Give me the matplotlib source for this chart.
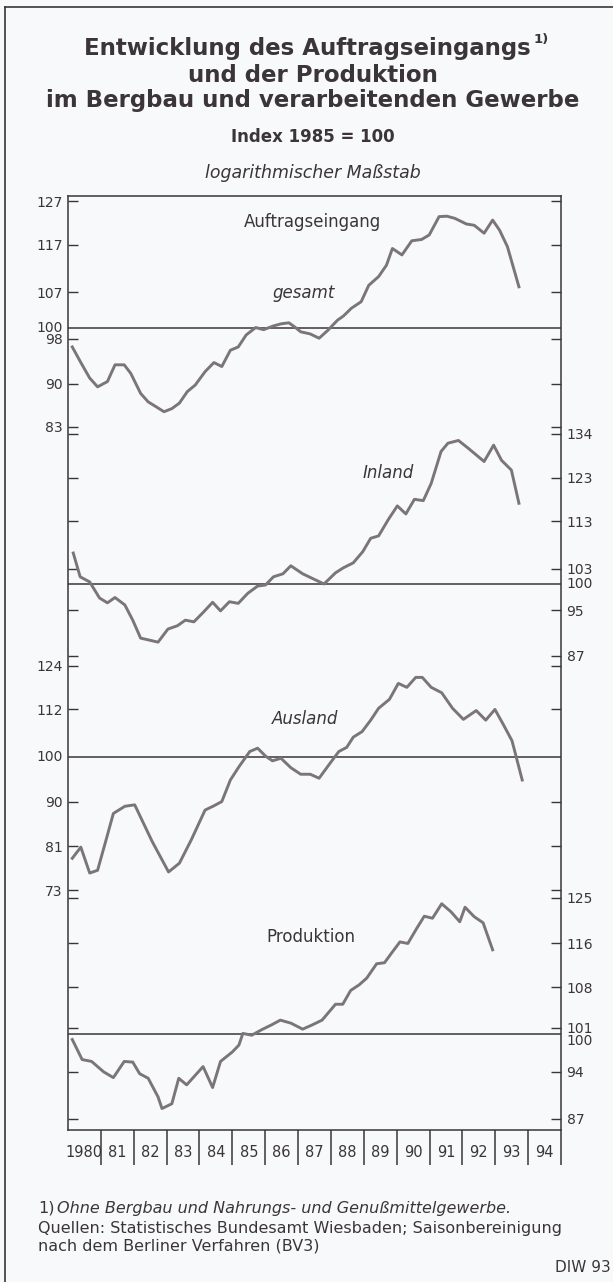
import matplotlib
matplotlib.use("Agg")
import matplotlib.pyplot as plt
import matplotlib.transforms as mtransforms
from matplotlib.lines import Line2D
from matplotlib.ticker import FixedLocator, NullLocator

# ---------------------------------------------------------------- data
YEAR_LABELS = ["1980", "81", "82", "83", "84", "85", "86", "87",
               "88", "89", "90", "91", "92", "93", "94"]

# Auftragseingang gesamt
T_GESAMT = [1980.13, 1980.40, 1980.66, 1980.90, 1981.20, 1981.43, 1981.71, 1981.91,
            1982.21, 1982.44, 1982.68, 1982.92, 1983.16, 1983.39, 1983.63, 1983.87,
            1984.17, 1984.44, 1984.68, 1984.94, 1985.18, 1985.42, 1985.71, 1985.95,
            1986.25, 1986.48, 1986.72, 1986.90, 1987.08, 1987.37, 1987.64, 1987.91,
            1988.20, 1988.38, 1988.62, 1988.92, 1989.15, 1989.45, 1989.69, 1989.87,
            1990.16, 1990.46, 1990.76, 1990.99, 1991.29, 1991.53, 1991.77,
            1992.12, 1992.36, 1992.66, 1992.92, 1993.13, 1993.37, 1993.72]
V_GESAMT = [96.5, 93.6, 91.0, 89.5, 90.4, 93.3, 93.3, 91.8,
            88.4, 87.0, 86.2, 85.4, 85.9, 86.8, 88.7, 89.8,
            92.1, 93.7, 93.0, 95.9, 96.5, 98.7, 100.1, 99.7,
            100.4, 100.8, 101.0, 100.2, 99.3, 98.9, 98.1, 99.6,
            101.5, 102.3, 103.8, 105.1, 108.4, 110.2, 112.6, 116.2,
            114.8, 117.9, 118.2, 119.2, 123.4, 123.5, 123.0,
            121.7, 121.4, 119.6, 122.6, 120.3, 116.6, 108.1]

# Auftragseingang Inland
T_INLAND = [1980.16, 1980.37, 1980.66, 1980.96, 1981.20, 1981.43, 1981.73, 1981.97,
            1982.21, 1982.44, 1982.74, 1983.04, 1983.33, 1983.57, 1983.83,
            1984.11, 1984.40, 1984.64, 1984.91, 1985.18, 1985.47, 1985.77,
            1986.01, 1986.25, 1986.54, 1986.78, 1987.14, 1987.43, 1987.79,
            1988.14, 1988.38, 1988.68, 1988.97, 1989.21, 1989.45, 1989.75,
            1990.02, 1990.28, 1990.54, 1990.81, 1991.05, 1991.35, 1991.56, 1991.88,
            1992.18, 1992.66, 1992.95, 1993.19, 1993.49, 1993.72]
V_INLAND = [106.2, 101.4, 100.4, 97.3, 96.4, 97.4, 96.0, 93.2,
            90.0, 89.7, 89.3, 91.6, 92.2, 93.2, 92.9,
            94.6, 96.5, 94.9, 96.6, 96.3, 98.2, 99.6,
            99.8, 101.4, 102.0, 103.6, 102.0, 101.1, 100.0,
            102.2, 103.2, 104.2, 106.5, 109.3, 109.8, 113.4,
            116.4, 114.6, 117.9, 117.6, 121.6, 129.4, 131.5, 132.2,
            130.2, 126.9, 131.0, 127.2, 124.8, 117.0]

# Auftragseingang Ausland
T_AUSLAND = [1980.13, 1980.39, 1980.66, 1980.90, 1981.15, 1981.38, 1981.73,
             1982.03, 1982.56, 1983.06, 1983.39, 1983.75,
             1984.17, 1984.44, 1984.68, 1984.94, 1985.20, 1985.53, 1985.77,
             1986.01, 1986.22, 1986.48, 1986.78, 1987.08, 1987.37, 1987.64, 1987.97,
             1988.24, 1988.48, 1988.68, 1988.95, 1989.21, 1989.45, 1989.78,
             1990.05, 1990.31, 1990.58, 1990.78, 1991.05, 1991.37, 1991.70,
             1992.03, 1992.42, 1992.71, 1992.99, 1993.25, 1993.51, 1993.82]
V_AUSLAND = [78.7, 80.8, 76.0, 76.5, 82.0, 87.5, 89.0,
             89.3, 81.9, 76.2, 77.8, 82.2,
             88.2, 89.1, 90.0, 94.7, 97.7, 101.3, 102.1,
             100.2, 99.1, 99.7, 97.5, 96.0, 96.0, 95.1, 98.5,
             101.3, 102.3, 104.8, 106.2, 109.1, 112.2, 114.6,
             119.0, 117.9, 120.7, 120.7, 117.9, 116.4, 112.2,
             109.3, 111.6, 109.1, 111.9, 107.9, 103.9, 94.7]

# Produktion
T_PROD = [1980.13, 1980.43, 1980.72, 1981.08, 1981.38, 1981.71, 1981.97,
          1982.18, 1982.44, 1982.74, 1982.86, 1983.16, 1983.37, 1983.61,
          1984.11, 1984.40, 1984.64, 1985.00, 1985.20, 1985.32, 1985.59, 1985.89,
          1986.19, 1986.46, 1986.78, 1987.14, 1987.43, 1987.73,
          1988.14, 1988.36, 1988.60, 1988.86, 1989.09, 1989.39, 1989.63, 1989.87,
          1990.10, 1990.34, 1990.61, 1990.84, 1991.09, 1991.37, 1991.65, 1991.92,
          1992.08, 1992.36, 1992.63, 1992.92]
V_PROD = [99.1, 95.9, 95.6, 94.0, 93.1, 95.6, 95.5,
          93.7, 93.0, 90.2, 88.5, 89.2, 93.0, 92.0,
          94.8, 91.6, 95.6, 97.1, 98.2, 100.1, 99.8, 100.7,
          101.5, 102.3, 101.8, 100.8, 101.5, 102.3,
          105.0, 105.0, 107.4, 108.4, 109.6, 112.2, 112.4, 114.4,
          116.3, 116.0, 118.9, 121.3, 120.9, 123.8, 122.2, 120.2,
          123.1, 121.2, 120.0, 114.8]

TICKS_GESAMT = [127, 117, 107, 98, 90, 83]
TICKS_INLAND = [134, 123, 113, 103, 95, 87]
TICKS_AUSLAND = [124, 112, 90, 81, 73]
TICKS_PROD = [125, 116, 108, 101, 94, 87]

# ---------------------------------------------------------------- style
INK = "#3b3539"
LINE = "#7b7578"
BG = "#f7f9fb"
plt.rcParams["font.family"] = ["DejaVu Sans"]

W, H = 613, 1282
fig = plt.figure(figsize=(W / 100, H / 100), dpi=100)
fig.patch.set_facecolor(BG)

# plot frame in pixels: x 68..561, y 196..1130 (from top)
rect = [68 / W, 1 - 1130 / H, (561 - 68) / W, (1130 - 196) / H]

ax0 = fig.add_axes(rect)
ax0.set_facecolor("none")
ax0.set_xlim(1980, 1995)
ax0.set_ylim(0, 1)
ax0.set_yticks([])
for sp in ax0.spines.values():
    sp.set_color(INK)
    sp.set_linewidth(1.1)
ax0.set_xticks([1980.5 + i for i in range(len(YEAR_LABELS))], labels=YEAR_LABELS)
ax0.set_xticks(range(1981, 1996), minor=True)
ax0.tick_params(axis="x", which="major", length=0, pad=11,
                labelsize=10.5, labelcolor=INK)
ax0.tick_params(axis="x", which="minor", direction="out", length=25,
                width=1.1, color=INK)

# one log-scaled axes per series, stacked on the same frame
panels = [
    # t, v, ylim, ticks, label side, 100-label valign
    (T_GESAMT, V_GESAMT, (22.02, 128.3), TICKS_GESAMT, "left", "center"),
    (T_INLAND, V_INLAND, (34.57, 212.7), TICKS_INLAND, "right", "center"),
    (T_AUSLAND, V_AUSLAND, (41.40, 376.7), TICKS_AUSLAND, "left", "center"),
    (T_PROD, V_PROD, (85.44, 395.0), TICKS_PROD, "right", "top"),
]

for t, v, ylim, ticks, side, va100 in panels:
    ax = fig.add_axes(rect)
    ax.patch.set_visible(False)
    for sp in ax.spines.values():
        sp.set_visible(False)
    ax.set_xlim(1980, 1995)
    ax.xaxis.set_visible(False)
    ax.set_yscale("log")
    ax.set_ylim(*ylim)
    ax.yaxis.set_major_locator(FixedLocator(ticks))
    ax.yaxis.set_minor_locator(NullLocator())
    ax.set_yticklabels([str(x) for x in ticks])
    ax.tick_params(axis="y", which="major", direction="in", length=7, width=1.0,
                   color=INK, left=True, right=True,
                   labelleft=(side == "left"), labelright=(side == "right"),
                   labelsize=10, labelcolor=INK, pad=4)

    ax.axhline(100, color=INK, lw=1.1, zorder=2)
    ax.plot(t, v, color=LINE, lw=2.1, solid_joinstyle="round", zorder=3)

    trans = mtransforms.blended_transform_factory(ax.transAxes, ax.transData)
    if side == "left":
        ax.text(-0.011, 100, "100", transform=trans, ha="right", va=va100,
                fontsize=10, color=INK)
    else:
        ax.text(1.011, 100, "100", transform=trans, ha="left", va=va100,
                fontsize=10, color=INK)

# series captions (axes fractions)
cap = dict(ha="center", va="center", fontsize=12, color=INK,
           transform=ax0.transAxes)
ax0.text(0.495, 0.972, "Auftragseingang", **cap)
ax0.text(0.479, 0.896, "gesamt", style="italic", **cap)
ax0.text(0.649, 0.703, "Inland", style="italic", **cap)
ax0.text(0.481, 0.440, "Ausland", style="italic", **cap)
ax0.text(0.493, 0.207, "Produktion", **cap)

# ----- titles
cx = 313 / W
fig.text(cx - 6 / W, 1 - 48 / H, "Entwicklung des Auftragseingangs",
         ha="center", va="center", fontsize=16.5, fontweight="bold", color=INK)
fig.text(534 / W, 1 - 40 / H, "1)", ha="left", va="center",
         fontsize=9.5, fontweight="bold", color=INK)
fig.text(cx, 1 - 75 / H, "und der Produktion",
         ha="center", va="center", fontsize=16.5, fontweight="bold", color=INK)
fig.text(cx, 1 - 101 / H, "im Bergbau und verarbeitenden Gewerbe",
         ha="center", va="center", fontsize=16.5, fontweight="bold", color=INK)
fig.text(cx, 1 - 137 / H, "Index 1985 = 100",
         ha="center", va="center", fontsize=12, fontweight="bold", color=INK)
fig.text(cx, 1 - 173 / H, "logarithmischer Maßstab",
         ha="center", va="center", fontsize=12.5, style="italic", color=INK)

# ----- footnotes
fig.text(38 / W, 1 - 1208 / H, "1)", ha="left", va="center",
         fontsize=11.5, color=INK)
fig.text(57 / W, 1 - 1208 / H, "Ohne Bergbau und Nahrungs- und Genußmittelgewerbe.",
         ha="left", va="center", fontsize=11.5, style="italic", color=INK)
fig.text(38 / W, 1 - 1228 / H,
         "Quellen: Statistisches Bundesamt Wiesbaden; Saisonbereinigung",
         ha="left", va="center", fontsize=11.5, color=INK)
fig.text(38 / W, 1 - 1246 / H, "nach dem Berliner Verfahren (BV3)",
         ha="left", va="center", fontsize=11.5, color=INK)
fig.text(611 / W, 1 - 1267 / H, "DIW 93", ha="right", va="center",
         fontsize=11, color=INK)

# ----- outer border (left and top)
fig.add_artist(Line2D([5 / W, 5 / W], [0, 1 - 7 / H], transform=fig.transFigure,
                      color=INK, lw=1.2))
fig.add_artist(Line2D([5 / W, 1], [1 - 7 / H, 1 - 7 / H], transform=fig.transFigure,
                      color=INK, lw=1.2))

fig.savefig("out.png", dpi=100, facecolor=BG)
